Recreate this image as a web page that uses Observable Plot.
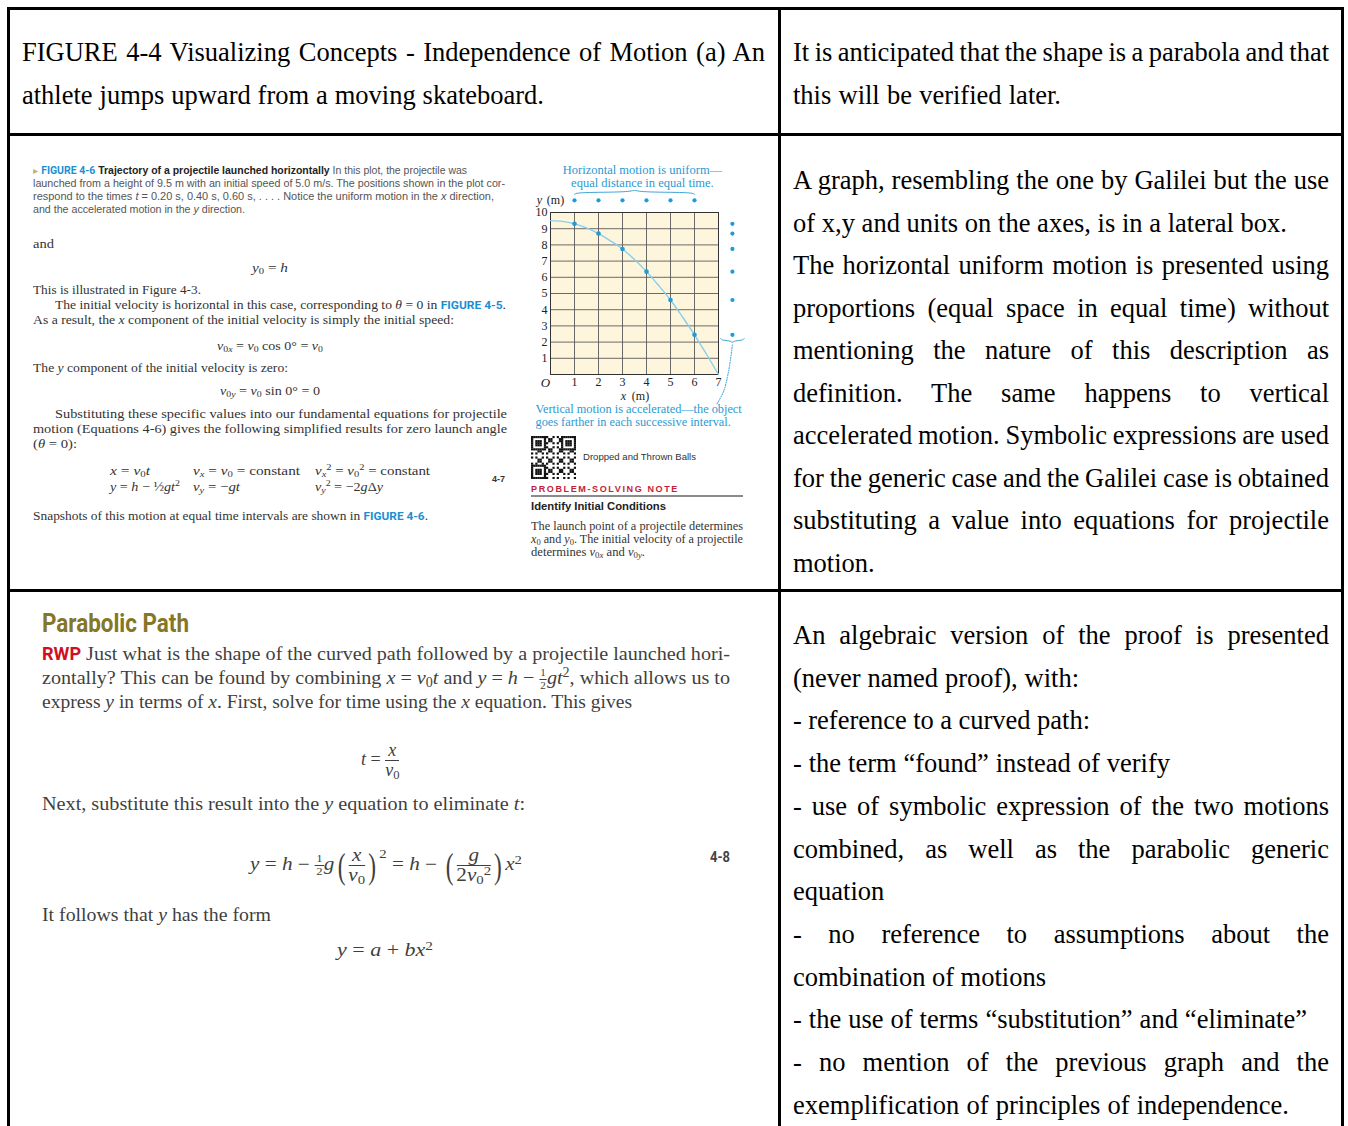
<!DOCTYPE html>
<html><head><meta charset="utf-8">
<script src="https://cdn.jsdelivr.net/npm/d3@7"></script>
<script src="https://cdn.jsdelivr.net/npm/@observablehq/plot@0.6"></script>
<style>
html,body{margin:0;padding:0;background:#fff;}
#root{position:relative;width:1348px;height:1126px;overflow:hidden;background:#fff;}
.b{position:absolute;background:#000;}
.t{position:absolute;white-space:nowrap;}
.sb{font-size:0.7em;vertical-align:-0.25em;line-height:0;}
.sp{font-size:0.7em;vertical-align:0.5em;line-height:0;}
.fr{display:inline-flex;flex-direction:column;vertical-align:middle;text-align:center;line-height:1.1;}
.fr>span:first-child{border-bottom:1px solid currentColor;padding:0 1px;}
.fg{font-family:Roboto,sans-serif;font-weight:700;color:#1b8fd2;font-size:0.88em;}
#chart{position:absolute;left:528px;top:158px;}
</style></head><body><div id="root"><div id="chart"></div></div>
<script>
// ---------- chart data (Figure 4-6) ----------
const xTicks = [1, 2, 3, 4, 5, 6, 7];
const yTicks = [1, 2, 3, 4, 5, 6, 7, 8, 9, 10];
const posX = [1, 2, 3, 4, 5, 6];
const posY = [9.3, 8.7, 7.75, 6.35, 4.6, 2.45];
const pathX = [0, 0.5, 1, 1.5, 2, 2.5, 3, 3.5, 4, 4.5, 5, 5.5, 6, 6.5, 7];
const pathY = [9.5, 9.45, 9.3, 9.05, 8.7, 8.25, 7.75, 7.1, 6.35, 5.5, 4.6, 3.55, 2.45, 1.25, 0];
const topNote = "Horizontal motion is uniform—\nequal distance in equal time.";
const bottomNote = "Vertical motion is accelerated—the object\ngoes farther in each successive interval.";

// ---------- table texts ----------
const row1Left = ["FIGURE 4-4 Visualizing Concepts - Independence of Motion (a) An",
  "athlete jumps upward from a moving skateboard."];
const row1Right = ["It is anticipated that the shape is a parabola and that",
  "this will be verified later."];
const row2Right = ["A graph, resembling the one by Galilei but the use",
  "of x,y and units on the axes, is in a lateral box.",
  "The horizontal uniform motion is presented using",
  "proportions (equal space in equal time) without",
  "mentioning the nature of this description as",
  "definition. The same happens to vertical",
  "accelerated motion. Symbolic expressions are used",
  "for the generic case and the Galilei case is obtained",
  "substituting a value into equations for projectile",
  "motion."];
const row2RightW = [536, 494, 536, 536, 536, 536, 536, 536, 536, 0];
const row3Right = ["An algebraic version of the proof is presented",
  "(never named proof), with:",
  "- reference to a curved path:",
  "- the term “found” instead of verify",
  "- use of symbolic expression of the two motions",
  "combined, as well as  the parabolic generic",
  "equation",
  "- no reference to assumptions about the",
  "combination of motions",
  "- the use of terms “substitution” and “eliminate”",
  "- no mention of the previous graph and the",
  "exemplification of principles of independence."];
const row3RightW = [536, 286, 297, 377, 536, 536, 91, 536, 253, 514, 536, 496];

const root = document.getElementById('root');
function put(x, cy, html, o = {}) {
  const size = o.size || 26.5, lh = o.lh || Math.round(size * 1.3);
  const d = document.createElement('div');
  d.className = 't';
  d.innerHTML = html;
  d.style.fontFamily = o.font || '"Liberation Serif", serif';
  d.style.fontSize = size + 'px';
  d.style.lineHeight = lh + 'px';
  d.style.color = o.color || '#000';
  if (o.weight) d.style.fontWeight = o.weight;
  if (o.ls) d.style.letterSpacing = o.ls + 'px';
  d.style.top = (cy - lh / 2 - (o.dy ?? 0)) + 'px';
  d.style.left = x + 'px';
  root.appendChild(d);
  const nat = d.getBoundingClientRect().width;
  if (o.w) {
    if (o.mode === 'j') {
      const n = d.textContent.trim().split(/\s+/).length - 1;
      if (n > 0) d.style.wordSpacing = ((o.w - nat) / n) + 'px';
    } else {
      d.style.transformOrigin = '0 50%';
      d.style.transform = `scaleX(${o.w / nat})`;
    }
  }
  if (o.center) d.style.left = (x - (o.w || nat) / 2) + 'px';
  return d;
}
function bar(l, t, w, h, c) {
  const d = document.createElement('div');
  d.className = 'b';
  Object.assign(d.style, {left: l + 'px', top: t + 'px', width: w + 'px', height: h + 'px'});
  if (c) d.style.background = c;
  root.appendChild(d);
}

// table borders
bar(7, 7, 1337, 3); bar(7, 7, 3, 1130); bar(778, 7, 3, 1130); bar(1341, 7, 3, 1130);
bar(7, 133, 1337, 3); bar(7, 589, 1337, 3);

// row 1
put(22, 52, row1Left[0], {w: 743, mode: 'j'});
put(22, 95, row1Left[1], {w: 522, mode: 'j'});
put(793, 52, row1Right[0], {w: 536, mode: 'j'});
put(793, 95, row1Right[1], {w: 268, mode: 'j'});
// row 2 right
row2Right.forEach((s, i) => put(793, 180 + i * 42.55, s, row2RightW[i] ? {w: row2RightW[i], mode: 'j'} : {}));
// row 3 right
row3Right.forEach((s, i) => put(793, 635 + i * 42.7, s, {w: row3RightW[i], mode: 'j'}));

// ---------- row 2 left: textbook page ----------
const SANS = '"Liberation Sans", Arial, sans-serif';
const cap = {font: SANS, size: 10, color: '#555'};
put(33, 170, '<span style="color:#c9b458">▸</span> <span class="fg" style="font-size:1em">FIGURE 4-6</span> <b style="color:#222">Trajectory of a projectile launched horizontally</b> In this plot, the projectile was', {...cap, w: 434});
put(33, 183, 'launched from a height of 9.5 m with an initial speed of 5.0 m/s. The positions shown in the plot cor-', {...cap, w: 472});
put(33, 196, 'respond to the times <i>t</i> = 0.20 s, 0.40 s, 0.60 s, . . . . Notice the uniform motion in the <i>x</i> direction,', {...cap, w: 461});
put(33, 209, 'and the accelerated motion in the <i>y</i> direction.', {...cap, w: 212});
const bk = {size: 12, color: '#333'};
put(33, 244, 'and', {...bk, w: 21});
put(270, 268, '<i>y</i><span class="sb">0</span> = <i>h</i>', {...bk, w: 36, center: true});
put(33, 290, 'This is illustrated in Figure 4-3.', {...bk, w: 168});
put(55, 305, 'The initial velocity is horizontal in this case, corresponding to <i>θ</i> = 0 in <span class="fg">FIGURE 4-5</span>.', {...bk, w: 451});
put(33, 320, 'As a result, the <i>x</i> component of the initial velocity is simply the initial speed:', {...bk, w: 421});
put(270, 346, '<i>v</i><span class="sb">0<i>x</i></span> = <i>v</i><span class="sb">0</span> cos 0° = <i>v</i><span class="sb">0</span>', {...bk, w: 106, center: true});
put(33, 368, 'The <i>y</i> component of the initial velocity is zero:', {...bk, w: 255});
put(270, 391, '<i>v</i><span class="sb">0<i>y</i></span> = <i>v</i><span class="sb">0</span> sin 0° = 0', {...bk, w: 100, center: true});
put(55, 414, 'Substituting these specific values into our fundamental equations for projectile', {...bk, w: 452});
put(33, 429, 'motion (Equations 4-6) gives the following simplified results for zero launch angle', {...bk, w: 474});
put(33, 444, '(<i>θ</i> = 0):', {...bk, w: 44});
put(110, 470, '<i>x</i> = <i>v</i><span class="sb">0</span><i>t</i>', {...bk, size: 13, w: 40});
put(193, 470, '<i>v<span class="sb">x</span></i> = <i>v</i><span class="sb">0</span> = constant', {...bk, size: 13, w: 107});
put(315, 470, '<i>v<span class="sb">x</span></i><span class="sp">2</span> = <i>v</i><span class="sb">0</span><span class="sp">2</span> = constant', {...bk, size: 13, w: 115});
put(110, 486, '<i>y</i> = <i>h</i> − ½<i>gt</i><span class="sp">2</span>', {...bk, size: 13, w: 70});
put(193, 486, '<i>v<span class="sb">y</span></i> = −<i>gt</i>', {...bk, size: 13, w: 47});
put(315, 486, '<i>v<span class="sb">y</span></i><span class="sp">2</span> = −2<i>g</i>Δ<i>y</i>', {...bk, size: 13, w: 68});
put(492, 479, '4-7', {font: SANS, size: 9, weight: 700, color: '#333'});
put(33, 516, 'Snapshots of this motion at equal time intervals are shown in <span class="fg">FIGURE 4-6</span>.', {...bk, w: 395});

// QR code decoration
(function () {
  const n = 21, s = 45 / n;
  const svg = d3.select(root).append('svg').attr('width', 45).attr('height', 43)
    .style('position', 'absolute').style('left', '531px').style('top', '436px');
  const finder = (i, j) => {
    for (const [a, b] of [[0, 0], [0, n - 7], [n - 7, 0]]) {
      const r = i - a, c = j - b;
      if (r >= 0 && r < 7 && c >= 0 && c < 7) {
        return (r === 0 || r === 6 || c === 0 || c === 6 || (r >= 2 && r <= 4 && c >= 2 && c <= 4)) ? 1 : 0;
      }
    }
    return -1;
  };
  const cells = [];
  for (let i = 0; i < n; i++) for (let j = 0; j < n; j++) {
    let f = finder(i, j);
    if (f === -1) f = ((i * 7 + j * 13 + i * j * 3) % 5) < 2 ? 1 : 0;
    if (f) cells.push([i, j]);
  }
  svg.selectAll('rect').data(cells).join('rect')
    .attr('x', d => d[1] * s).attr('y', d => d[0] * s * 43 / 45)
    .attr('width', s + 0.1).attr('height', s * 43 / 45 + 0.1).attr('fill', '#111');
})();
put(583, 457, 'Dropped and Thrown Balls', {font: SANS, size: 9.5, color: '#333', w: 113});
put(531, 489, 'PROBLEM-SOLVING NOTE', {font: SANS, size: 8.5, weight: 700, color: '#c41e3a', ls: 1.5, w: 148});
bar(531, 495, 212, 1.5, '#8a8a8a');
put(531, 506, 'Identify Initial Conditions', {font: SANS, size: 10.5, weight: 700, color: '#222', w: 135});
put(531, 526, 'The launch point of a projectile determines', {size: 11.5, color: '#333', w: 212});
put(531, 539, '<i>x</i><span class="sb">0</span> and <i>y</i><span class="sb">0</span>. The initial velocity of a projectile', {size: 11.5, color: '#333', w: 212});
put(531, 552, 'determines <i>v</i><span class="sb">0<i>x</i></span> and <i>v</i><span class="sb">0<i>y</i></span>.', {size: 11.5, color: '#333', w: 114});

// ---------- row 3 left: Parabolic Path ----------
put(42, 623, 'Parabolic Path', {font: 'Roboto, sans-serif', size: 25, weight: 700, color: '#857628', w: 147});
const pb = {size: 19.5, color: '#3f3f3f'};
put(42, 653, '<b style="font-family:Roboto,sans-serif;color:#d0101f;font-size:0.9em">RWP</b> Just what is the shape of the curved path followed by a projectile launched hori-', {...pb, w: 688});
put(42, 677, 'zontally? This can be found by combining <i>x</i> = <i>v</i><span class="sb">0</span><i>t</i> and <i>y</i> = <i>h</i> − <span class="fr" style="font-size:0.55em"><span>1</span><span>2</span></span><i>gt</i><span class="sp">2</span>, which allows us to', {...pb, w: 688});
put(42, 701, 'express <i>y</i> in terms of <i>x</i>. First, solve for time using the <i>x</i> equation. This gives', {...pb, w: 590});
const frac = (a, b) => `<span class="fr"><span>${a}</span><span>${b}</span></span>`;
const LP = '<span style="font-size:2em;vertical-align:middle;line-height:0;display:inline-block;transform:scaleX(0.55)">(</span>';
const RP = '<span style="font-size:2em;vertical-align:middle;line-height:0;display:inline-block;transform:scaleX(0.55)">)</span>';
put(361, 752, '<i>t</i> = ' + frac('<i>x</i>', '<i>v</i><span class="sb">0</span>'), {...pb, size: 18});
put(42, 803, 'Next, substitute this result into the <i>y</i> equation to eliminate <i>t</i>:', {...pb, w: 483});
put(250, 857, '<i>y</i> = <i>h</i> − <span class="fr" style="font-size:0.6em"><span>1</span><span>2</span></span><i>g</i>' + LP + frac('<i>x</i>', '<i>v</i><span class="sb">0</span>') + RP + '<span class="sp" style="vertical-align:1em">2</span> = <i>h</i> − ' + LP + frac('<i>g</i>', '2<i>v</i><span class="sb">0</span><span class="sp">2</span>') + RP + '<i>x</i><span class="sp">2</span>', {...pb, size: 18, w: 272});
put(710, 857, '4-8', {font: 'Roboto, sans-serif', size: 15, weight: 700, color: '#444', w: 20});
put(42, 914, 'It follows that <i>y</i> has the form', {...pb, w: 229});
put(337, 950, '<i>y</i> = <i>a</i> + <i>bx</i><span class="sp">2</span>', {...pb, size: 18, w: 96});

// ---------- the chart ----------
const pts = posX.map((x, i) => ({x, y: posY[i]}));
const path = pathX.map((x, i) => ({x, y: pathY[i]}));
const TOP = 10.75, RIGHT = 7.58;
const x0 = d3.min(posX), x1 = d3.max(posX), xm = (x0 + x1) / 2;
const bTop = 11.12;
const topBrace = [[x0, bTop], [x0 + 0.12, bTop + 0.13], [xm - 0.18, bTop + 0.13], [xm, bTop + 0.3], [xm + 0.18, bTop + 0.13], [x1 - 0.12, bTop + 0.13], [x1, bTop]];
const bR = d3.min(posY) - 0.23;
const rightBrace = [[RIGHT - 0.49, bR], [RIGHT - 0.42, bR - 0.12], [RIGHT - 0.1, bR - 0.12], [RIGHT, bR - 0.28], [RIGHT + 0.1, bR - 0.12], [RIGHT + 0.42, bR - 0.12], [RIGHT + 0.49, bR]];
const connector = [[RIGHT, bR - 0.4], [RIGHT - 0.16, 0.2], [RIGHT - 0.37, -1.05], [RIGHT - 0.66, -1.85]];
const BLUE = '#1f9bd7', NOTE = '#2a9ad4';
const chart = Plot.plot({
  width: 225, height: 275,
  marginLeft: 22, marginRight: 35, marginTop: 54, marginBottom: 59,
  x: {domain: [0, 7], axis: null},
  y: {domain: [0, 10], axis: null},
  style: {fontFamily: '"Liberation Serif", serif', fontSize: '12px', color: '#222', background: 'transparent', overflow: 'visible'},
  marks: [
    Plot.frame({fill: '#fdf6dc', stroke: null}),
    Plot.gridX(xTicks.filter(v => v < 7), {stroke: '#5a5a5a', strokeOpacity: 1, strokeWidth: 0.9}),
    Plot.gridY(yTicks.filter(v => v < 10), {stroke: '#5a5a5a', strokeOpacity: 1, strokeWidth: 0.9}),
    Plot.frame({stroke: '#333', strokeWidth: 1}),
    Plot.axisX(xTicks, {tickSize: 0, tickPadding: 3, label: null, fontSize: 12}),
    Plot.axisY(yTicks, {tickSize: 0, tickPadding: 3, label: null, fontSize: 12}),
    Plot.text(['O'], {x: () => 0, y: () => 0, dx: -5, dy: 8, fontStyle: 'italic', fontSize: 13}),
    Plot.text(['y'], {x: () => 0, y: () => TOP, dx: -11, fontStyle: 'italic', fontSize: 12}),
    Plot.text(['(m)'], {x: () => 0, y: () => TOP, dx: 5, fontSize: 12}),
    Plot.text(['x'], {x: () => 3.5, y: () => 0, dx: -11, dy: 22, fontStyle: 'italic', fontSize: 12}),
    Plot.text(['(m)'], {x: () => 3.5, y: () => 0, dx: 6, dy: 22, fontSize: 12}),
    Plot.line(path, {x: 'x', y: 'y', curve: 'catmull-rom', stroke: '#88cfee', strokeWidth: 1.4}),
    Plot.dot(pts, {x: 'x', y: 'y', r: 2.3, fill: BLUE}),
    Plot.dot(pts, {x: 'x', y: () => TOP, r: 2.1, fill: BLUE}),
    Plot.dot(pts, {x: () => RIGHT, y: 'y', r: 2.1, fill: BLUE}),
    Plot.line(topBrace, {x: d => d[0], y: d => d[1], stroke: NOTE, strokeWidth: 0.9, curve: 'basis'}),
    Plot.line(rightBrace, {x: d => d[0], y: d => d[1], stroke: NOTE, strokeWidth: 0.9, curve: 'basis'}),
    Plot.line(connector, {x: d => d[0], y: d => d[1], stroke: NOTE, strokeWidth: 1, strokeDasharray: '1,1.5', curve: 'catmull-rom'}),
    Plot.text([topNote], {x: () => 3.83, y: () => 12.25, textAnchor: 'middle', lineHeight: 1.05, fill: NOTE, fontSize: 12.5}),
    Plot.text([bottomNote], {x: () => -0.625, y: () => -2.55, textAnchor: 'start', lineHeight: 1.05, fill: NOTE, fontSize: 12.3})
  ]
});
document.getElementById('chart').appendChild(chart);
</script></body></html>
